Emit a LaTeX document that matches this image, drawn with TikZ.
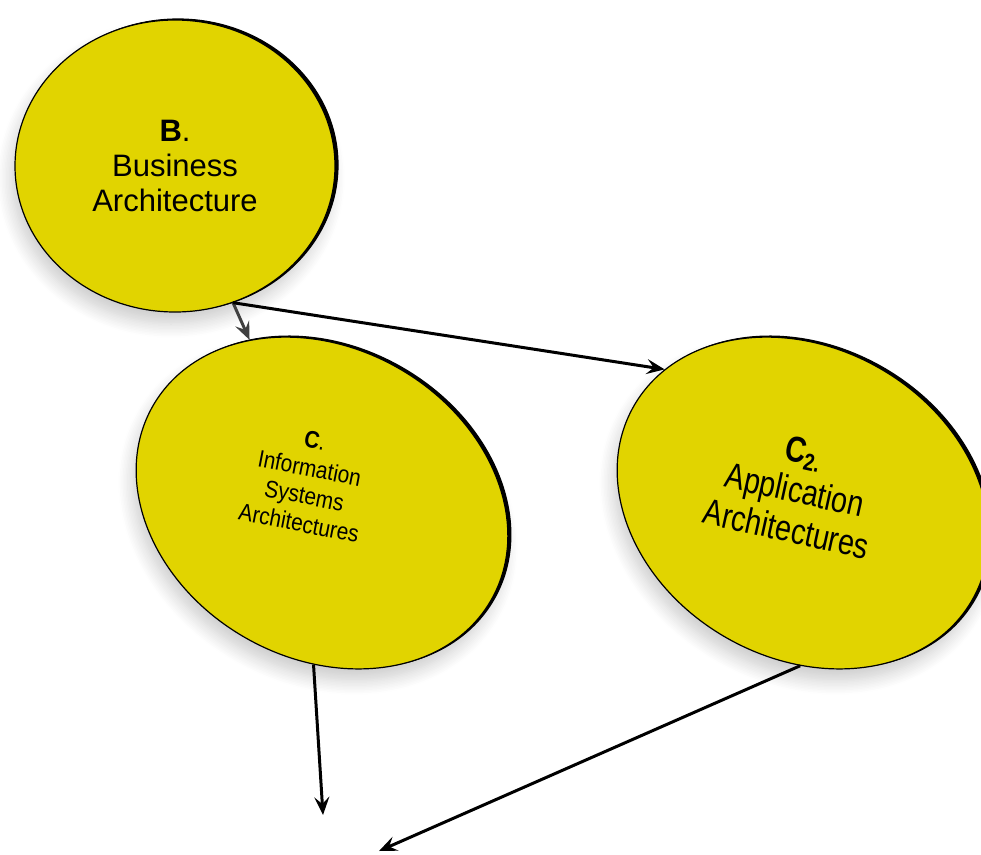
\documentclass[tikz,border=0pt]{standalone}
\usepackage{fontspec}
\setmainfont{Liberation Sans}
\usetikzlibrary{shapes.geometric,arrows.meta,shadows,shadows.blur}
\definecolor{discyellow}{RGB}{225,212,0}
\tikzset{
	disc/.style={ellipse, fill=discyellow, draw=black, line width=1.2pt, inner sep=0pt,
		blur shadow={shadow xshift=-4pt, shadow yshift=-12pt, shadow opacity=20, shadow blur radius=14pt, shadow blur steps=10},
		copy shadow={shadow xshift=3pt, shadow yshift=1pt, fill=black, draw=black}},
	flow/.style={-{Stealth[length=18pt,width=15pt,inset=7pt]}, line width=3pt}
}
\begin{document}
\begin{tikzpicture}[x=1pt,y=-1pt]
	\useasboundingbox (0,0) rectangle (981,854);
	
	\node[disc, minimum width=320pt, minimum height=292pt, align=center, font=\fontsize{31}{35}\selectfont] (bus) at (175,166) {\textbf{B}.\\Business\\Architecture};
	
	\node[disc, minimum width=390pt, minimum height=310pt, rotate=-30] (isa) at (322,503) {};
	\node[rotate=-11, xscale=0.87, align=center, font=\fontsize{24}{28}\selectfont] (isatext) at (307,482) {\textbf{C}.\\Information\\Systems\\Architectures};
	
	\node[disc, minimum width=390pt, minimum height=310pt, rotate=-30] (app) at (803,503) {};
	\node[rotate=-12.5, xscale=0.8, align=center, font=\fontsize{36}{40}\selectfont] (apptext) at (795,490) {\textbf{C}\raisebox{-0.3ex}{\fontsize{24}{24}\selectfont\textbf{2.}}\\Application\\Architectures};
	
	\coordinate (isaend) at (323,815);
	\coordinate (append) at (379,851);
	
	\draw[flow, draw=black!75] (bus.-67) -- (isa);
	\draw[flow] (bus.-67) -- (app.166);
	\draw[flow] (isa.-63) -- (isaend);
	\draw[flow] (app.-61) -- (append);
\end{tikzpicture}
\end{document}
